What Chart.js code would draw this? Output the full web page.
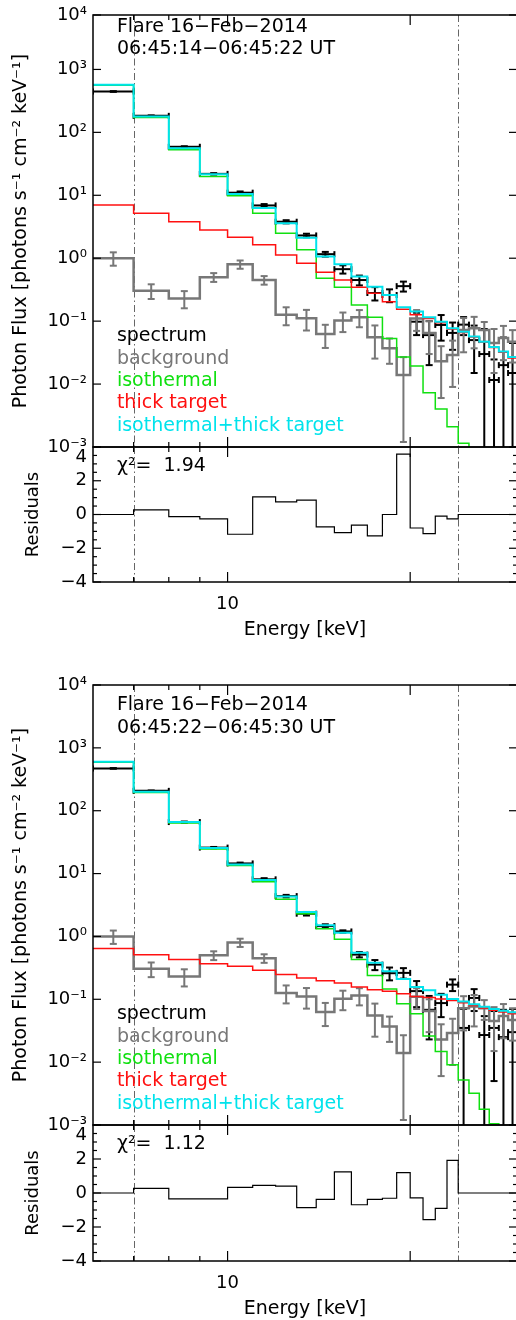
<!DOCTYPE html>
<html>
<head>
<meta charset="utf-8">
<script src="https://cdn.jsdelivr.net/npm/chart.js@4.4.1/dist/chart.umd.min.js"></script>
<style>
html, body { margin: 0; padding: 0; background: #fff; overflow: hidden; width: 516px; height: 1320px; }
canvas { position: absolute; left: 0; }
</style>
</head>
<body>
<canvas id="spec1" width="518" height="462" style="top:0px;width:518px;height:462px"></canvas>
<canvas id="res1" width="518" height="228" style="top:432px;width:518px;height:228px"></canvas>
<canvas id="spec2" width="518" height="470" style="top:670px;width:518px;height:470px"></canvas>
<canvas id="res2" width="518" height="229" style="top:1110px;width:518px;height:229px"></canvas>
<script>
// energy bins (keV), 1 keV wide from 6 to 30
const energyEdges = [6,7,8,9,10,11,12,13,14,15,16,17,18,19,20,21,22,23,24,25,26,27,28,29,30];

// background, same for both intervals
const bkg    = [1.0, 0.305, 0.23, 0.50, 0.80, 0.45, 0.126, 0.111, 0.0625, 0.102, 0.115, 0.0554, 0.037, 0.014, 0.11, 0.065, 0.023, 0.029, 0.072, 0.077, 0.072, 0.045, 0.054, 0.047];
const bkgErr = [0.24, 0.08, 0.07, 0.08, 0.12, 0.07, 0.04, 0.04, 0.025, 0.035, 0.035, 0.03, 0.016, 0.0128, 0.04, 0.035, 0.017, 0.02, 0.04, 0.04, 0.025, 0.03, 0.03, 0.025];

// interval 1: 06:45:14-06:45:22
const spec1    = [446, 183, 59, 21.9, 11.0, 6.9, 3.8, 2.3, 1.16, 0.67, 0.45, 0.28, 0.26, 0.36, 0.098, 0.060, 0.087, 0.065, 0.088, 0.05, 0.03, 0.0116, 0.02, 0.015];
const spec1Err = [6, 3, 1.2, 0.6, 0.5, 0.35, 0.22, 0.15, 0.1, 0.1, 0.08, 0.067, 0.06, 0.065, 0.038, 0.04, 0.038, 0.03, 0.028, 0.035, 0.045, 0.013, 0.035, 0.03];
const total1   = [569, 178, 56, 21.5, 10.5, 6.3, 3.6, 2.12, 1.06, 0.80, 0.51, 0.353, 0.26, 0.166, 0.142, 0.115, 0.098, 0.077, 0.068, 0.057, 0.047, 0.039, 0.033, 0.027];
const iso1     = [560, 173, 52.7, 19.8, 9.8, 5.2, 2.5, 1.36, 0.48, 0.346, 0.181, 0.115, 0.053, 0.027, 0.0194, 0.0073, 0.004, 0.0021, 0.00115, 0.0001, 0.0001, 0.0001, 0.0001, 0.0001];
const thick1   = [7.0, 5.2, 3.8, 2.82, 2.16, 1.63, 1.13, 0.83, 0.6, 0.45, 0.346, 0.278, 0.204, 0.155, 0.126, 0.11, 0.094, 0.075, 0.066, 0.056, 0.046, 0.038, 0.032, 0.026];
const resid1   = [0, 0.28, -0.12, -0.26, -1.17, 1.05, 0.75, 0.85, -0.73, -1.07, -0.63, -1.27, 0, 3.58, -0.8, -1.13, -0.1, -0.26, 0, 0, 0, 0, 0, 0];

// interval 2: 06:45:22-06:45:30
const spec2    = [471, 207, 66, 25.9, 14.5, 8.1, 4.38, 2.3, 1.46, 1.2, 0.514, 0.356, 0.26, 0.263, 0.135, 0.068, 0.087, 0.171, 0.035, 0.105, 0.027, 0.035, 0.025, 0.03];
const spec2Err = [6, 3, 1.3, 0.6, 0.45, 0.35, 0.2, 0.15, 0.1, 0.05, 0.05, 0.065, 0.06, 0.05, 0.06, 0.045, 0.035, 0.036, 0.035, 0.04, 0.027, 0.03, 0.043, 0.04];
const total2   = [600, 200, 66, 25.5, 14.0, 7.9, 4.3, 2.45, 1.50, 1.14, 0.55, 0.38, 0.279, 0.211, 0.157, 0.139, 0.118, 0.101, 0.092, 0.083, 0.076, 0.070, 0.066, 0.062];
const iso2     = [590, 195, 64, 24.5, 13.5, 7.4, 3.9, 2.3, 1.32, 0.9, 0.43, 0.24, 0.146, 0.085, 0.059, 0.026, 0.0148, 0.0091, 0.0052, 0.0032, 0.00178, 0.00105, 0.0001, 0.0001];
const thick2   = [0.64, 0.51, 0.43, 0.366, 0.335, 0.29, 0.247, 0.219, 0.198, 0.182, 0.157, 0.142, 0.134, 0.122, 0.111, 0.107, 0.101, 0.096, 0.088, 0.080, 0.073, 0.067, 0.063, 0.059];
const resid2   = [0, 0.27, -0.35, -0.35, 0.33, 0.45, 0.41, -0.86, -0.37, 1.24, -0.69, -0.37, -0.31, 1.2, -0.29, -1.57, -0.9, 1.92, 0, 0, 0, 0, 0, 0];

// ticks
const fluxTicks   = [1e-3, 1e-2, 1e-1, 1, 10, 100, 1000, 10000];
const residTicks  = [-4, -2, 0, 2, 4];
const residMinor  = [-3.5, -3, -2.5, -1.5, -1, -0.5, 0.5, 1, 1.5, 2.5, 3, 3.5];
const energyTicks = [10];
const energyMajor = [10, 20, 30];
const energyMinor = [7, 8, 9];
const fitRange    = [7, 24];

const intervals = ['06:45:14\u221206:45:22 UT', '06:45:22\u221206:45:30 UT'];
const chiSq     = ['1.94', '1.12'];

const CYAN = '#00e3ec', RED = '#ff1010', GREEN = '#10e010', GRAY = '#777777';
const FONT = "'DejaVu Sans', sans-serif";
Chart.defaults.font.family = FONT;
Chart.defaults.color = '#000';

const SUP = {'-': '\u207b', '0': '\u2070', '1': '\u00b9', '2': '\u00b2', '3': '\u00b3', '4': '\u2074'};
function powLabel(v) {
  const e = String(Math.round(Math.log10(v)));
  return '10' + e.split('').map(c => SUP[c]).join('');
}

function steps(vals) {
  return energyEdges.map((e, i) => ({ x: e, y: vals[Math.min(i, vals.length - 1)] }));
}
function centers(vals) {
  return vals.map((v, i) => ({ x: Math.sqrt(energyEdges[i] * energyEdges[i + 1]), y: v }));
}

// error bars drawn right after their own dataset
const errorBars = {
  id: 'errorBars',
  afterDatasetDraw(chart, args) {
    const ds = chart.data.datasets[args.index];
    if (!ds.errors) return;
    const { ctx, chartArea: a, scales: { x, y } } = chart;
    ctx.save();
    ctx.beginPath();
    ctx.rect(a.left, a.top, a.right - a.left, a.bottom - a.top);
    ctx.clip();
    ctx.strokeStyle = ds.borderColor;
    ctx.lineWidth = ds.errWidth;
    const seg = (x0, y0, x1, y1) => { ctx.beginPath(); ctx.moveTo(x0, y0); ctx.lineTo(x1, y1); ctx.stroke(); };
    ds.data.forEach((p, i) => {
      const err = ds.errors[i];
      const xc = x.getPixelForValue(p.x);
      const yc = y.getPixelForValue(p.y);
      const yt = y.getPixelForValue(p.y + err);
      const yb = p.y - err > 0 ? y.getPixelForValue(p.y - err) : a.bottom + 20;
      seg(xc, yt, xc, yb);
      seg(xc - 3.5, yt, xc + 3.5, yt);
      seg(xc - 3.5, yb, xc + 3.5, yb);
      if (ds.xBars) {
        const xl = x.getPixelForValue(energyEdges[i]);
        const xr = x.getPixelForValue(energyEdges[i + 1]);
        seg(xl, yc, xr, yc);
        seg(xl, yc - 3, xl, yc + 3);
        seg(xr, yc - 3, xr, yc + 3);
      }
    });
    ctx.restore();
  }
};

// box, inward ticks, fit-range lines and text
const frame = {
  id: 'frame',
  beforeDatasetsDraw(chart) {
    const { ctx, chartArea: a, scales: { x } } = chart;
    ctx.save();
    ctx.strokeStyle = '#666';
    ctx.lineWidth = 1;
    ctx.setLineDash([7, 3, 1.5, 3]);
    fitRange.forEach(e => {
      const px = Math.round(x.getPixelForValue(e)) + 0.5;
      ctx.beginPath(); ctx.moveTo(px, a.top); ctx.lineTo(px, a.bottom); ctx.stroke();
    });
    ctx.restore();
  },
  afterDraw(chart, args, opts) {
    const { ctx, chartArea: a, scales: { x, y } } = chart;
    ctx.save();
    ctx.strokeStyle = '#000';
    ctx.lineWidth = 1.5;
    ctx.strokeRect(a.left, a.top, a.right - a.left, a.bottom - a.top);
    const seg = (x0, y0, x1, y1) => { ctx.beginPath(); ctx.moveTo(x0, y0); ctx.lineTo(x1, y1); ctx.stroke(); };
    ctx.lineWidth = 1.2;
    energyMajor.forEach(e => { const p = x.getPixelForValue(e); seg(p, a.bottom, p, a.bottom - 10); seg(p, a.top, p, a.top + 10); });
    energyMinor.forEach(e => { const p = x.getPixelForValue(e); seg(p, a.bottom, p, a.bottom - 5); seg(p, a.top, p, a.top + 5); });
    (opts.yMajor || []).forEach(v => { const p = y.getPixelForValue(v); seg(a.left, p, a.left + 8, p); seg(a.right, p, a.right - 8, p); });
    (opts.yMinor || []).forEach(v => { const p = y.getPixelForValue(v); seg(a.left, p, a.left + 4, p); seg(a.right, p, a.right - 4, p); });
    ctx.font = '19px ' + FONT;
    ctx.textBaseline = 'middle';
    ctx.textAlign = 'left';
    (opts.notes || []).forEach(n => {
      ctx.fillStyle = n.color || '#000';
      ctx.fillText(n.text, x.getPixelForValue(n.x), y.getPixelForValue(n.y));
    });
    ctx.restore();
  }
};

function noPad(s) { s.paddingTop = 0; s.paddingBottom = 0; s.paddingLeft = 0; s.paddingRight = 0; }

function specChart(id, spec, specErr, iso, thick, total, yMax, interval) {
  const yTicks = fluxTicks.map(v => Math.min(v, yMax));
  return new Chart(document.getElementById(id), {
    type: 'line',
    data: {
      datasets: [
        { label: 'isothermal+thick target', data: steps(total), borderColor: CYAN, borderWidth: 2, stepped: true, pointRadius: 0, order: 0 },
        { label: 'thick target', data: steps(thick), borderColor: RED, borderWidth: 1.5, stepped: true, pointRadius: 0, order: 1 },
        { label: 'isothermal', data: steps(iso), borderColor: GREEN, borderWidth: 1.5, stepped: true, pointRadius: 0, order: 2 },
        { label: 'background', data: steps(bkg), borderColor: GRAY, borderWidth: 2.5, stepped: true, pointRadius: 0, order: 3 },
        { label: 'background errors', data: centers(bkg), errors: bkgErr, errWidth: 2, borderColor: GRAY, showLine: false, pointRadius: 0, order: 4 },
        { label: 'spectrum', data: centers(spec), errors: specErr, xBars: true, errWidth: 2, borderColor: '#000', showLine: false, pointRadius: 0, order: 5 }
      ]
    },
    options: {
      responsive: false,
      animation: false,
      layout: { padding: { top: 15, bottom: 15, left: 0, right: 1 } },
      plugins: {
        legend: { display: false },
        tooltip: { enabled: false },
        frame: {
          yMajor: yTicks,
          notes: [
            { text: 'Flare 16\u2212Feb\u22122014', x: 6.57, y: Math.pow(10, 3.68) },
            { text: interval, x: 6.57, y: Math.pow(10, 3.32) },
            { text: 'spectrum', x: 6.57, y: Math.pow(10, -1.24) },
            { text: 'background', x: 6.57, y: Math.pow(10, -1.595), color: GRAY },
            { text: 'isothermal', x: 6.57, y: Math.pow(10, -1.95), color: GREEN },
            { text: 'thick target', x: 6.57, y: Math.pow(10, -2.305), color: RED },
            { text: 'isothermal+thick target', x: 6.57, y: Math.pow(10, -2.66), color: CYAN }
          ]
        }
      },
      scales: {
        x: { type: 'logarithmic', min: 6, max: 30, bounds: 'data', display: false },
        y: {
          type: 'logarithmic', min: 1e-3, max: yMax, bounds: 'data',
          afterBuildTicks: s => { s.ticks = yTicks.map(v => ({ value: v })); },
          afterFit: s => { s.width = 93; noPad(s); },
          grid: { display: false, drawTicks: false },
          border: { display: false },
          ticks: { autoSkip: false, padding: 6, font: { size: 18 }, color: '#000', callback: v => powLabel(v) },
          title: { display: true, text: 'Photon Flux [photons s\u207b\u00b9 cm\u207b\u00b2 keV\u207b\u00b9]', font: { size: 19 }, color: '#000', padding: { top: 10, bottom: 0 } }
        }
      }
    },
    plugins: [errorBars, frame]
  });
}

function residChart(id, resid, chi) {
  return new Chart(document.getElementById(id), {
    type: 'line',
    data: {
      datasets: [
        { label: 'residuals', data: steps(resid), borderColor: '#000', borderWidth: 1.2, stepped: true, pointRadius: 0 }
      ]
    },
    options: {
      responsive: false,
      animation: false,
      layout: { padding: { top: 15, bottom: 0, left: 0, right: 1 } },
      plugins: {
        legend: { display: false },
        tooltip: { enabled: false },
        frame: {
          yMajor: residTicks,
          yMinor: residMinor,
          notes: [{ text: '\u03c7\u00b2=  ' + chi, x: 6.57, y: 2.85 }]
        }
      },
      scales: {
        x: {
          type: 'logarithmic', min: 6, max: 30, bounds: 'data',
          afterBuildTicks: s => { s.ticks = energyTicks.map(v => ({ value: v })); },
          afterFit: s => { s.height = 78; noPad(s); },
          grid: { display: false, drawTicks: false },
          border: { display: false },
          ticks: { autoSkip: false, maxRotation: 0, padding: 12, font: { size: 18 }, color: '#000', callback: v => String(v) },
          title: { display: true, text: 'Energy [keV]', font: { size: 19 }, color: '#000', padding: { top: 0, bottom: 19 } }
        },
        y: {
          min: -4, max: 4,
          afterBuildTicks: s => { s.ticks = residTicks.map(v => ({ value: v })); },
          afterFit: s => { s.width = 93; noPad(s); },
          grid: { display: false, drawTicks: false },
          border: { display: false },
          ticks: {
            autoSkip: false, padding: 6, font: { size: 18 }, color: '#000',
            callback: v => {
              const t = v < 0 ? '\u2212' + Math.abs(v) : String(v);
              return v === 4 ? ['', t] : t;
            }
          },
          title: { display: true, text: 'Residuals', font: { size: 18 }, color: '#000', padding: { top: 23, bottom: 0 } }
        }
      }
    },
    plugins: [frame]
  });
}

specChart('spec1', spec1, spec1Err, iso1, thick1, total1, Math.pow(10, 3.865), intervals[0]);
residChart('res1', resid1, chiSq[0]);
specChart('spec2', spec2, spec2Err, iso2, thick2, total2, 1e4, intervals[1]);
residChart('res2', resid2, chiSq[1]);
</script>
</body>
</html>
